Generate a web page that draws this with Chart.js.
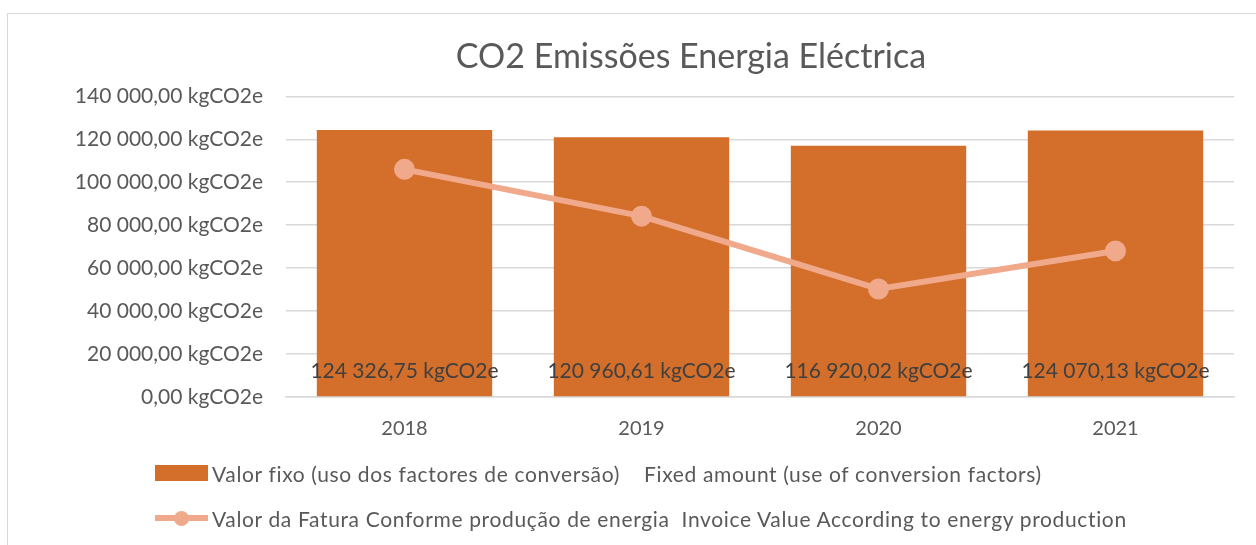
<!DOCTYPE html>
<html>
<head>
<meta charset="utf-8">
<script src="https://cdn.jsdelivr.net/npm/chart.js@4.4.0/dist/chart.umd.min.js"></script>
<style>
  body { margin: 0; background: #fff; font-family: Lato, sans-serif; }
  #wrap { position: relative; width: 1256px; height: 545px; overflow: hidden; }
  #frame { position: absolute; left: 7px; top: 13px; width: 1300px; height: 600px; border: 1.5px solid #d9d9d9; box-sizing: border-box; }
  #legend { position: absolute; left: 155px; top: 461px; color: #595959; font-size: 21px; letter-spacing: 0.65px; }
  .item { display: flex; align-items: center; height: 24px; margin-bottom: 21px; white-space: pre; }
  .mark { width: 53px; height: 16px; margin-right: 4px; position: relative; flex: none; }
</style>
</head>
<body>
<div id="wrap">
  <div id="frame"></div>
  <canvas id="co2Chart" width="1256" height="545"></canvas>
  <div id="legend"></div>
</div>
<script>
const years = ['2018', '2019', '2020', '2021'];
const fixedValues = [124326.75, 120960.61, 116920.02, 124070.13];
const invoiceValues = [106000, 84200, 50300, 68000];
const yTicks = [0, 20000, 40000, 60000, 80000, 100000, 120000, 140000];

const fixedLabel = 'Valor fixo (uso dos factores de conversão)    Fixed amount (use of conversion factors)';
const invoiceLabel = 'Valor da Fatura Conforme produção de energia  Invoice Value According to energy production';

const barColor = '#d36e2b';
const lineColor = '#f0a98a';
const textColor = '#595959';

function fmt(v) {
  const parts = v.toFixed(2).split('.');
  const intPart = parts[0].replace(/\B(?=(\d{3})+(?!\d))/g, ' ');
  return intPart + ',' + parts[1] + ' kgCO2e';
}

const barLabels = {
  id: 'barLabels',
  afterDatasetsDraw(chart) {
    const ctx = chart.ctx;
    const meta = chart.getDatasetMeta(0);
    const yScale = chart.scales.y;
    ctx.save();
    ctx.font = '21px Lato';
    ctx.fillStyle = '#404040';
    ctx.textAlign = 'center';
    ctx.textBaseline = 'middle';
    meta.data.forEach((bar, i) => {
      ctx.fillText(fmt(fixedValues[i]), bar.x, yScale.bottom - 26);
    });
    ctx.restore();
  }
};

// the title sits a bit right of the canvas centre, as in the original
const titleShift = {
  id: 'titleShift',
  afterLayout(chart) {
    chart.titleBlock.left += 140;
  }
};

const ctx = document.getElementById('co2Chart').getContext('2d');
const chart = new Chart(ctx, {
  type: 'bar',
  data: {
    labels: years,
    datasets: [{
      type: 'bar',
      label: fixedLabel,
      data: fixedValues,
      backgroundColor: barColor,
      categoryPercentage: 1,
      barPercentage: 0.74,
      order: 2
    }, {
      type: 'line',
      label: invoiceLabel,
      data: invoiceValues,
      borderColor: lineColor,
      backgroundColor: lineColor,
      borderWidth: 6,
      pointRadius: 7.5,
      pointHoverRadius: 7.5,
      tension: 0,
      order: 1
    }]
  },
  options: {
    responsive: false,
    animation: false,
    layout: {
      padding: { left: 8, top: 13, right: 22, bottom: 84 }
    },
    plugins: {
      legend: { display: false },
      tooltip: { enabled: false },
      title: {
        display: true,
        text: 'CO2 Emissões Energia Eléctrica',
        color: textColor,
        font: { family: 'Lato', size: 34, weight: 'normal' },
        padding: { top: 24, bottom: 18.5 }
      }
    },
    scales: {
      x: {
        grid: { display: false, drawTicks: false },
        border: { color: '#d9d9d9', width: 1.5 },
        ticks: { color: textColor, font: { family: 'Lato', size: 20 }, padding: 20 }
      },
      y: {
        min: 0,
        max: 140000,
        afterBuildTicks(scale) {
          scale.ticks = yTicks.map(v => ({ value: v }));
        },
        afterFit(scale) {
          scale.width = 278;
        },
        grid: { color: '#d9d9d9', lineWidth: 1.5, drawTicks: false },
        border: { display: false },
        ticks: {
          color: textColor,
          font: { family: 'Lato', size: 21 },
          padding: 23,
          callback: v => fmt(v)
        }
      }
    }
  },
  plugins: [barLabels, titleShift]
});

// legend built from the chart datasets
const legend = document.getElementById('legend');
chart.data.datasets.forEach(ds => {
  const item = document.createElement('div');
  item.className = 'item';
  const mark = document.createElement('div');
  mark.className = 'mark';
  if (ds.type === 'bar') {
    mark.style.background = ds.backgroundColor;
  } else {
    mark.innerHTML = '<div style="position:absolute;left:0;right:0;top:5px;height:6px;background:' + ds.borderColor + '"></div>' +
      '<div style="position:absolute;left:19px;top:0.5px;width:15px;height:15px;border-radius:50%;background:' + ds.borderColor + '"></div>';
  }
  const label = document.createElement('span');
  label.textContent = ds.label;
  item.appendChild(mark);
  item.appendChild(label);
  legend.appendChild(item);
});
</script>
</body>
</html>
